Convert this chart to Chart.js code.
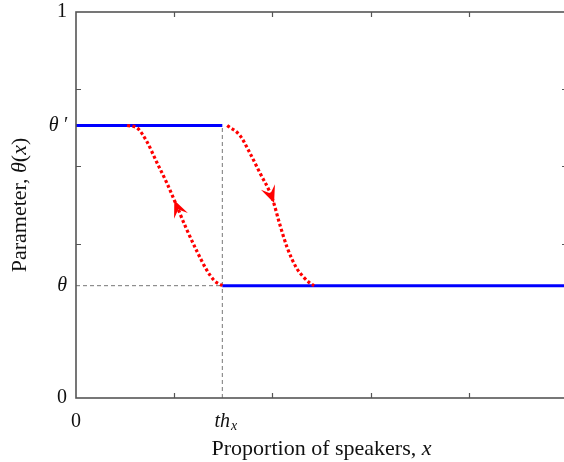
<!DOCTYPE html>
<html>
<head>
<meta charset="utf-8">
<script src="https://cdn.jsdelivr.net/npm/chart.js@4.4.1/dist/chart.umd.min.js"></script>
<style>
  html, body { margin: 0; padding: 0; background: #fff; overflow: hidden; }
  #wrap { width: 572px; height: 462px; }
</style>
</head>
<body>
<div id="wrap"><canvas id="c" width="572" height="462"></canvas></div>
<script>
// Threshold levels of the parameter and the switching proportion
const thetaLow = 0.291;
const thetaHigh = 0.706;
const thX = 0.298;

// Upward transition: lower branch at th_x climbing back to the upper branch
const riseX = [0.104, 0.124, 0.144, 0.164, 0.185, 0.205, 0.225, 0.246, 0.266, 0.282, 0.298];
const riseY = [0.706, 0.700, 0.665, 0.612, 0.557, 0.498, 0.438, 0.381, 0.332, 0.304, 0.291];
// Downward transition: upper branch falling onto the lower one
const fallX = [0.308, 0.334, 0.354, 0.375, 0.399, 0.415, 0.430, 0.449, 0.463, 0.477, 0.485];
const fallY = [0.706, 0.680, 0.635, 0.582, 0.520, 0.450, 0.390, 0.337, 0.314, 0.297, 0.291];

// Axis ticks
const yTickValues = [0, thetaLow, thetaHigh, 1];
const yTickLabels = ['0', 'θ', 'θ\u2009′', '1'];
const yMinorTicks = [0.4, 0.6, 0.8];
const xTickValues = [0, thX];
const xTickLabels = ['0', 'th'];
const xMinorTicks = [0.2, 0.4, 0.6, 0.8];

const SERIF = "'Liberation Serif', 'DejaVu Serif', serif";
const AXIS_COLOR = '#555';

const toPts = (xs, ys) => xs.map((x, i) => ({ x, y: ys[i] }));

// Arrow position on each transition curve, and whether it runs against point order
const arrows = { rise: { at: 5, reverse: true }, fall: { at: 4, reverse: false } };

function drawParts(ctx, parts, cx, baseY, size) {
  let total = 0;
  parts.forEach(([t, s]) => { ctx.font = s + ' ' + size + 'px ' + SERIF; total += ctx.measureText(t).width; });
  let px = cx - total / 2;
  ctx.textAlign = 'left';
  ctx.textBaseline = 'alphabetic';
  ctx.fillStyle = '#111';
  parts.forEach(([t, s]) => {
    ctx.font = s + ' ' + size + 'px ' + SERIF;
    ctx.fillText(t, px, baseY);
    px += ctx.measureText(t).width;
  });
}

const frameAndLabels = {
  id: 'frameAndLabels',
  afterDatasetsDraw(chart) {
    const { ctx, chartArea: a, scales: { x, y } } = chart;
    ctx.save();
    // direction arrows on the dotted curves
    chart.data.datasets.forEach((ds, di) => {
      const arr = arrows[ds.arrowKey];
      if (!arr) return;
      const pts = chart.getDatasetMeta(di).data;
      const i = arr.at;
      const p0 = pts[i - 1], p1 = pts[i], p2 = pts[i + 1];
      let dx = p2.x - p0.x, dy = p2.y - p0.y;
      if (arr.reverse) { dx = -dx; dy = -dy; }
      const len = Math.hypot(dx, dy);
      dx /= len; dy /= len;
      const nx = -dy, ny = dx;
      const tipX = p1.x + dx * 6, tipY = p1.y + dy * 6;
      const L = 17, W = 7.5, N = 10;
      ctx.fillStyle = '#ff0000';
      ctx.beginPath();
      ctx.moveTo(tipX, tipY);
      ctx.lineTo(tipX - dx * L + nx * W, tipY - dy * L + ny * W);
      ctx.lineTo(tipX - dx * N, tipY - dy * N);
      ctx.lineTo(tipX - dx * L - nx * W, tipY - dy * L - ny * W);
      ctx.closePath();
      ctx.fill();
    });

    // axes box
    ctx.strokeStyle = AXIS_COLOR;
    ctx.lineWidth = 1.6;
    ctx.strokeRect(a.left, a.top, a.right - a.left, a.bottom - a.top);

    // inward tick marks
    ctx.lineWidth = 1.2;
    ctx.beginPath();
    xMinorTicks.forEach(v => {
      const px = Math.round(x.getPixelForValue(v)) + 0.5;
      ctx.moveTo(px, a.bottom); ctx.lineTo(px, a.bottom - 5);
      ctx.moveTo(px, a.top); ctx.lineTo(px, a.top + 5);
    });
    yMinorTicks.forEach(v => {
      const py = Math.round(y.getPixelForValue(v)) + 0.5;
      ctx.moveTo(a.left, py); ctx.lineTo(a.left + 5, py);
      ctx.moveTo(a.right, py); ctx.lineTo(a.right - 5, py);
    });
    ctx.stroke();

    // subscript of the threshold tick label
    ctx.fillStyle = '#111';
    ctx.font = 'italic 20px ' + SERIF;
    const thW = ctx.measureText(xTickLabels[1]).width;
    const thPx = x.getPixelForValue(thX);
    ctx.font = 'italic 14px ' + SERIF;
    ctx.textAlign = 'left';
    ctx.textBaseline = 'alphabetic';
    ctx.fillText('x', thPx + thW / 2 + 1, 430);

    // x axis title
    drawParts(ctx, [['Proportion of speakers, ', 'normal'], ['x', 'italic']], (a.left + a.right) / 2, 455, 22);

    // y axis title (rotated)
    ctx.save();
    ctx.translate(26, (a.top + a.bottom) / 2);
    ctx.rotate(-Math.PI / 2);
    drawParts(ctx, [['Parameter, ', 'normal'], ['θ', 'italic'], ['(', 'normal'], ['x', 'italic'], [')', 'normal']], 0, 0, 22);
    ctx.restore();
    ctx.restore();
  }
};

const dotted = { borderColor: '#ff0000', borderWidth: 3.2, borderDash: [3, 2.4], cubicInterpolationMode: 'monotone',
  pointRadius: 0, order: 0 };

new Chart(document.getElementById('c'), {
  type: 'line',
  data: {
    datasets: [
      Object.assign({ data: toPts(riseX, riseY), arrowKey: 'rise' }, dotted),
      Object.assign({ data: toPts(fallX, fallY), arrowKey: 'fall' }, dotted),
      { data: [{ x: 0, y: thetaHigh }, { x: thX, y: thetaHigh }], borderColor: '#0000ff', borderWidth: 3,
        pointRadius: 0, order: 1 },
      { data: [{ x: thX, y: thetaLow }, { x: 1, y: thetaLow }], borderColor: '#0000ff', borderWidth: 3,
        pointRadius: 0, order: 1 },
      { data: [{ x: 0, y: thetaLow }, { x: thX, y: thetaLow }], borderColor: '#777', borderWidth: 1,
        borderDash: [4, 3], pointRadius: 0, order: 2 },
      { data: [{ x: thX, y: 0 }, { x: thX, y: thetaHigh }], borderColor: '#777', borderWidth: 1,
        borderDash: [4, 3], pointRadius: 0, order: 2 }
    ]
  },
  options: {
    responsive: false,
    animation: false,
    devicePixelRatio: 1,
    layout: { padding: { left: 0, top: 12, right: 5, bottom: 0 } },
    plugins: { legend: { display: false }, tooltip: { enabled: false } },
    scales: {
      x: {
        type: 'linear', min: 0, max: 1,
        grid: { display: false, drawTicks: false },
        border: { display: false },
        afterFit(s) { s.height = 64; s.paddingLeft = 0; s.paddingRight = 0; },
        afterBuildTicks(s) { s.ticks = xTickValues.map(v => ({ value: v })); },
        ticks: {
          autoSkip: false, maxRotation: 0, padding: 12, color: '#111',
          font: (c) => ({ family: SERIF, size: 20, style: c.index === 1 ? 'italic' : 'normal' }),
          callback: (v, i) => xTickLabels[i]
        }
      },
      y: {
        type: 'linear', min: 0, max: 1,
        grid: { display: false, drawTicks: false },
        border: { display: false },
        afterFit(s) { s.width = 76; s.paddingTop = 0; s.paddingBottom = 0; },
        afterBuildTicks(s) { s.ticks = yTickValues.map(v => ({ value: v })); },
        ticks: {
          autoSkip: false, padding: 9, color: '#111',
          font: (c) => ({ family: SERIF, size: 20, style: (c.index === 1 || c.index === 2) ? 'italic' : 'normal' }),
          callback: (v, i) => yTickLabels[i]
        }
      }
    }
  },
  plugins: [frameAndLabels]
});
</script>
</body>
</html>
